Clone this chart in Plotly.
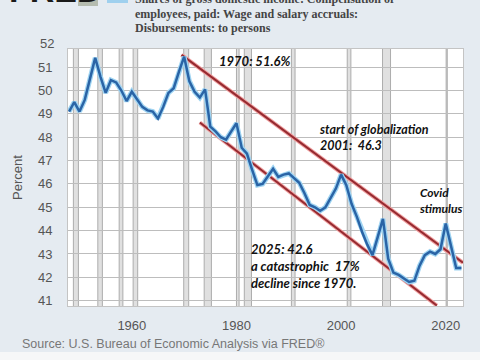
import plotly.graph_objects as go

years = list(range(1948, 2024))
share = [
    49.1, 49.5, 49.1, 49.6, 50.5, 51.4, 50.6, 49.9, 50.45, 50.35,
    50.0, 49.55, 49.95, 49.6, 49.3, 49.15, 49.1, 48.8, 49.3, 49.9,
    50.1, 50.8, 51.45, 50.4, 49.95, 49.7, 50.05, 48.45, 48.25, 48.0,
    47.9, 48.25, 48.6, 47.55, 47.3, 46.6, 45.95, 46.0, 46.3, 46.65,
    46.3, 46.4, 46.45, 46.25, 46.05, 45.6, 45.1, 45.0, 44.85, 45.0,
    45.4, 45.8, 46.4, 45.95, 45.15, 44.6, 43.95, 43.4, 42.95, 43.7,
    44.5, 42.8, 42.2, 42.1, 41.95, 41.8, 41.85, 42.5, 42.95, 43.1,
    43.0, 43.2, 44.3, 43.3, 42.4, 42.4,
]

recession_start = [1948.83, 1953.5, 1957.58, 1960.25, 1969.92, 1973.83, 1980.0,
                   1981.5, 1990.5, 2001.17, 2007.92, 2020.08]
recession_end = [1949.79, 1954.37, 1958.29, 1961.12, 1970.87, 1975.21, 1980.5,
                 1982.87, 1991.2, 2001.87, 2009.45, 2020.29]

upper_trend_x = [1969.5, 2023.3]
upper_trend_y = [51.53, 42.62]
lower_trend_x = [1973.0, 2018.3]
lower_trend_y = [48.63, 40.79]

y_ticks = list(range(41, 52))
x_ticks = [1960, 1980, 2000, 2020]

BG = "#e5ebf1"

fig = go.Figure()

# recession shading
for s, e in zip(recession_start, recession_end):
    fig.add_shape(type="rect", xref="x", yref="y", x0=s, x1=e, y0=40.5, y1=52.5,
                  fillcolor="#e0e0e0", line=dict(color="#acacac", width=1), layer="below")

# trend lines (halo + core)
for tx, ty in ((upper_trend_x, upper_trend_y), (lower_trend_x, lower_trend_y)):
    fig.add_trace(go.Scatter(x=tx, y=ty, mode="lines", line=dict(color="#f0a0a0", width=4),
                             hoverinfo="skip", showlegend=False, cliponaxis=False))
    fig.add_trace(go.Scatter(x=tx, y=ty, mode="lines", line=dict(color="#962a30", width=2),
                             hoverinfo="skip", showlegend=False, cliponaxis=False))

# data line
fig.add_trace(go.Scatter(x=years, y=share, mode="lines",
                         line=dict(color="#9fd4f2", width=5), showlegend=False, hoverinfo="skip"))
fig.add_trace(go.Scatter(x=years, y=share, mode="lines",
                         line=dict(color="#2a64a6", width=2.5), showlegend=False))

ann_font = dict(family="Lato, Open Sans, sans-serif", size=13, color="#111111")
fig.add_annotation(x=1976.2, y=51.27, xref="x", yref="y", text="<b><i>1970: 51.6%</i></b>",
                   showarrow=False, xanchor="left", yanchor="middle", font=ann_font)
fig.add_annotation(x=1995.3, y=47.98, xref="x", yref="y",
                   text="<b><i>start of globalization<br>2001:\u00a0\u00a046.3</i></b>",
                   showarrow=False, xanchor="left", yanchor="middle", align="left",
                   font=dict(ann_font, size=12.5))
fig.add_annotation(x=2014.6, y=45.29, xref="x", yref="y",
                   text="<b><i>Covid<br>stimulus</i></b>",
                   showarrow=False, xanchor="left", yanchor="middle", align="left",
                   font=dict(ann_font, size=12))
fig.add_annotation(x=1982.4, y=42.47, xref="x", yref="y",
                   text="<b><i>2025: 42.6<br>a catastrophic\u00a0\u00a017%<br>decline since 1970.</i></b>",
                   showarrow=False, xanchor="left", yanchor="middle", align="left", font=ann_font)

# top "52" label (outside plotted range)
fig.add_annotation(x=0, y=(306 - 43.6) / 257, xref="paper", yref="paper", text="52",
                   showarrow=False, xanchor="right", yanchor="middle", xshift=-12,
                   font=dict(family="Liberation Sans, Arial", size=13, color="#555555"))

# y-axis title
fig.add_annotation(x=-0.1266, y=0.502, xref="paper", yref="paper", text="Percent",
                   textangle=-90, showarrow=False, xanchor="center", yanchor="middle",
                   font=dict(family="Liberation Sans, Arial", size=13, color="#555555"))

# source
fig.add_annotation(x=-0.1215, y=-0.148, xref="paper", yref="paper",
                   text="Source: U.S. Bureau of Economic Analysis via FRED®",
                   showarrow=False, xanchor="left", yanchor="middle",
                   font=dict(family="Liberation Sans, Arial", size=12.5, color="#777777"))

# header: FRED logo + legend title
fig.add_annotation(x=(7 - 68) / 395, y=(306 + 10) / 257, xref="paper", yref="paper",
                   text="<b>FRED</b>", showarrow=False, xanchor="left", yanchor="middle",
                   font=dict(family="Liberation Sans, Arial", size=34, color="#1a1a1a"))
title_font = dict(family="Liberation Serif, Times New Roman, serif", size=12, color="#444444")
for txt, py in (("Shares of gross domestic income: Compensation of", -1),
                ("employees, paid: Wage and salary accruals:", 14),
                ("Disbursements: to persons", 28)):
    fig.add_annotation(x=(133 - 68) / 395, y=(306 - py) / 257, xref="paper", yref="paper",
                       text="<b>" + txt + "</b>", showarrow=False, xanchor="left",
                       yanchor="middle", font=title_font)

fig.add_shape(type="rect", xref="paper", yref="paper",
              x0=(107 - 68) / 395, x1=(128 - 68) / 395, y0=(306 - 3) / 257, y1=(306 + 2) / 257,
              fillcolor="#9fd0ee", line=dict(width=0))
fig.add_shape(type="rect", xref="paper", yref="paper",
              x0=(78 - 68) / 395, x1=(98 - 68) / 395, y0=(306 - 6) / 257, y1=(306 + 2) / 257,
              fillcolor="#b5bcb0", line=dict(width=0))
fig.add_shape(type="rect", xref="paper", yref="paper",
              x0=-0.3, x1=1.2, y0=(306 - 362) / 257, y1=(306 - 352) / 257,
              fillcolor="#f6f7f8", line=dict(width=0))

fig.update_layout(
    width=480, height=360,
    margin=dict(l=68, r=17, t=49, b=54),
    paper_bgcolor=BG, plot_bgcolor="white",
    showlegend=False,
    xaxis=dict(range=[1947.8, 2023.3], tickvals=x_ticks, showgrid=False, zeroline=False,
               showline=True, linecolor="#c4c4c4", mirror=True, ticks="",
               ticklabelstandoff=7,
               tickfont=dict(family="Liberation Sans, Arial", size=13, color="#555555")),
    yaxis=dict(range=[40.77, 51.78], tickvals=y_ticks, showgrid=True, gridcolor="#bdbdbd",
               gridwidth=1, zeroline=False, showline=True, linecolor="#c4c4c4", mirror=True,
               ticks="", ticklabelstandoff=12,
               tickfont=dict(family="Liberation Sans, Arial", size=13, color="#555555")),
)

fig.write_html("out.html", config={"displayModeBar": False},
               post_script="document.body.style.margin='0';")
